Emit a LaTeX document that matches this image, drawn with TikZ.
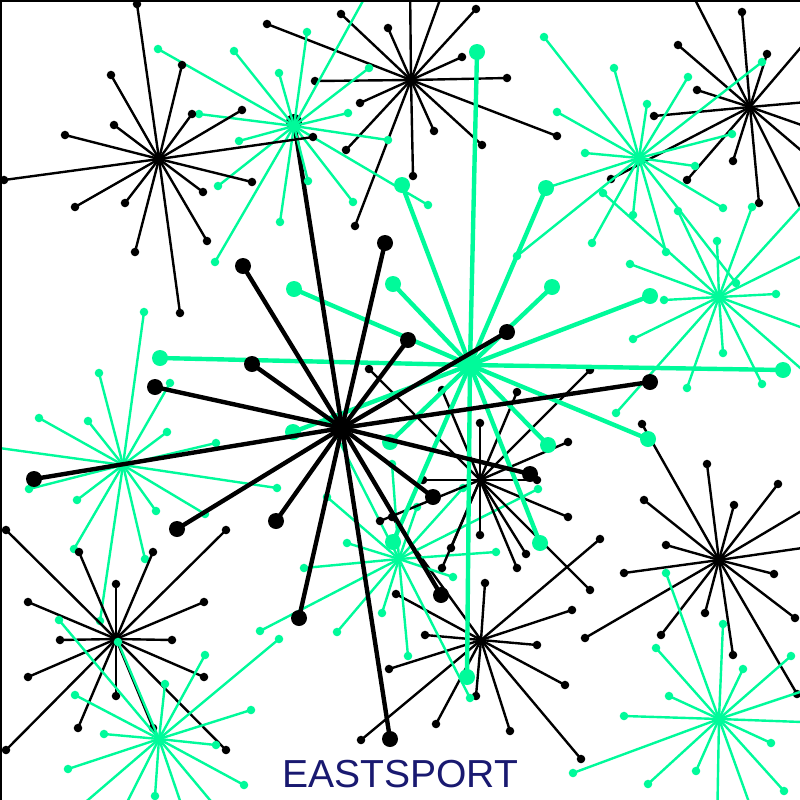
\documentclass[tikz,border=0pt]{standalone}
\usepackage{fontspec}
\setsansfont{Liberation Sans}
\definecolor{cgreen}{HTML}{00FA9A}
\definecolor{cnavy}{HTML}{191970}
\tikzset{
  every picture/.style={x=0.75pt, y=-0.75pt},
  ray small/.style={line width=1.8pt},
  ray big/.style={line width=3.3pt},
  dot small/.style={radius=3.2pt},
  dot big/.style={radius=6pt},
  frame/.style={line width=3pt},
  brand/.style={font=\sffamily\fontsize{29.3}{32}\selectfont, text=cnavy, inner sep=0pt},
}
% one burst: centre, colour, size, list of ray ends
\newcommand{\starburst}[4]{%
  \foreach \ex/\ey in {#4} {
    \draw[#2, ray #3] (#1) -- (\ex,\ey);
    \fill[#2, dot #3] (\ex,\ey) circle;
  }}

\begin{document}
\begin{tikzpicture}
  \useasboundingbox (0,0) rectangle (800,800);
  \clip (0,0) rectangle (800,800);
  \coordinate (b1) at (159,159);
  \coordinate (g1) at (294,126);
  \coordinate (b2) at (411,80);
  \coordinate (b3) at (750,107);
  \coordinate (g2) at (639,158);
  \coordinate (g3) at (719,297);
  \coordinate (gg) at (470,365);
  \coordinate (bb) at (342,428);
  \coordinate (g4) at (123,465);
  \coordinate (b4) at (480,480);
  \coordinate (g5) at (399,559);
  \coordinate (b5) at (481,640);
  \coordinate (b6) at (719,560);
  \coordinate (b7) at (116,639);
  \coordinate (g7) at (159,739);
  \coordinate (g6) at (719,719);

  \starburst{b2}{black}{small}{267/24, 341/14, 388/28, 410/-20, 447/-20, 476/9, 462/57, 507/78,
    557/136, 482/145, 434/131, 413/176, 355/226, 346/150, 360/103, 315/81}
  \starburst{b3}{black}{small}{685/-20, 742/12, 678/45, 767/54, 820/25, 697/90, 654/116, 830/100,
    830/135, 830/175, 733/161, 687/180, 759/203, 815/237, 611/179}
  \starburst{g2}{cgreen}{small}{544/37, 614/68, 647/104, 688/77, 762/62, 557/112, 585/153, 732/134,
    695/166, 723/208, 546/188, 633/215, 592/243, 666/252, 736/283, 517/256}
  \starburst{g3}{cgreen}{small}{717/241, 752/207, 830/175, 830/242, 776/294, 664/300, 630/264, 603/193,
    678/211, 633/339, 723/353, 687/388, 762/384, 830/338, 830/394, 616/413}
  \starburst{g4}{cgreen}{small}{144/312, 99/373, 170/383, 39/418, 88/421, 167/432, 216/443, -30/444,
    29/489, 77/500, 156/511, 205/514, 277/488, 74/549, 100/621, 145/559}
  \starburst{b7}{black}{small}{6/530, 79/552, 153/552, 116/584, 28/602, 204/602, 60/640, 172/640,
    28/677, 204/677, 116/696, 78/728, 153/728, 6/750, 226/750, 226/530}
  \starburst{g7}{cgreen}{small}{59/620, 118/642, 165/684, 205/655, 279/639, 251/710, 216/745, 244/785,
    68/769, 104/734, 75/695, 155/796, 53/830, 113/830, 190/830, 235/830}
  \starburst{b6}{black}{small}{666/545, 624/573, 774/574, 795/618, 705/613, 661/635, 585/638, 733/655,
    797/694, 707/464, 644/500, 734/505, 778/484, 830/494, 642/424, 830/544}
  \starburst{g6}{cgreen}{small}{666/573, 723/624, 656/648, 743/669, 791/656, 669/696, 624/716, 830/682,
    830/723, 771/743, 696/771, 648/784, 573/773, 784/791, 717/830, 759/830}
  \starburst{b5}{black}{small}{396/594, 425/635, 389/669, 361/740, 436/724, 476/696, 510/731, 485/583,
    537/645, 565/685, 581/759, 572/610, 600/539, 392/517}
  \starburst{g5}{cgreen}{small}{329/421, 327/497, 392/464, 417/507, 347/543, 304/568, 453/577, 463/488,
    538/489, 496/552, 470/698, 408/656, 382/613, 337/632, 260/631}
  \starburst{b4}{black}{small}{369/369, 442/390, 480/423, 517/392, 590/370, 568/442, 537/480, 568/517,
    590/590, 526/554, 517/568, 480/535, 451/548, 442/568, 423/480, 380/521}
  \starburst{gg}{cgreen}{big}{160/358, 294/289, 393/284, 402/185, 477/52, 546/188, 552/287, 650/296,
    783/370, 648/439, 548/445, 540/543, 467/677, 393/542, 390/442, 293/432}
  \starburst{bb}{black}{big}{243/266, 294/122, 385/243, 408/340, 507/332, 650/382, 530/474, 433/497,
    441/595, 390/739, 299/618, 276/521, 177/529, 34/479, 155/387, 252/364}
  \starburst{g1}{cgreen}{small}{307/32, 279/73, 369/68, 348/113, 388/140, 428/205, 353/202, 308/181,
    280/222, 158/49, 234/51, 199/114, 239/141, 218/186, 215/262, 380/-30}
  \starburst{b1}{black}{small}{137/4, 182/65, 111/75, 242/110, 192/114, 114/125, 65/135, 4/180,
    252/182, 203/192, 75/207, 125/203, 207/241, 135/252, 180/313, 313/137}

  \draw[frame] (0,800) -- (0,0) -- (800,0);
  \node[brand, anchor=base] (name) at (400,787) {EASTSPORT};
\end{tikzpicture}
\end{document}
